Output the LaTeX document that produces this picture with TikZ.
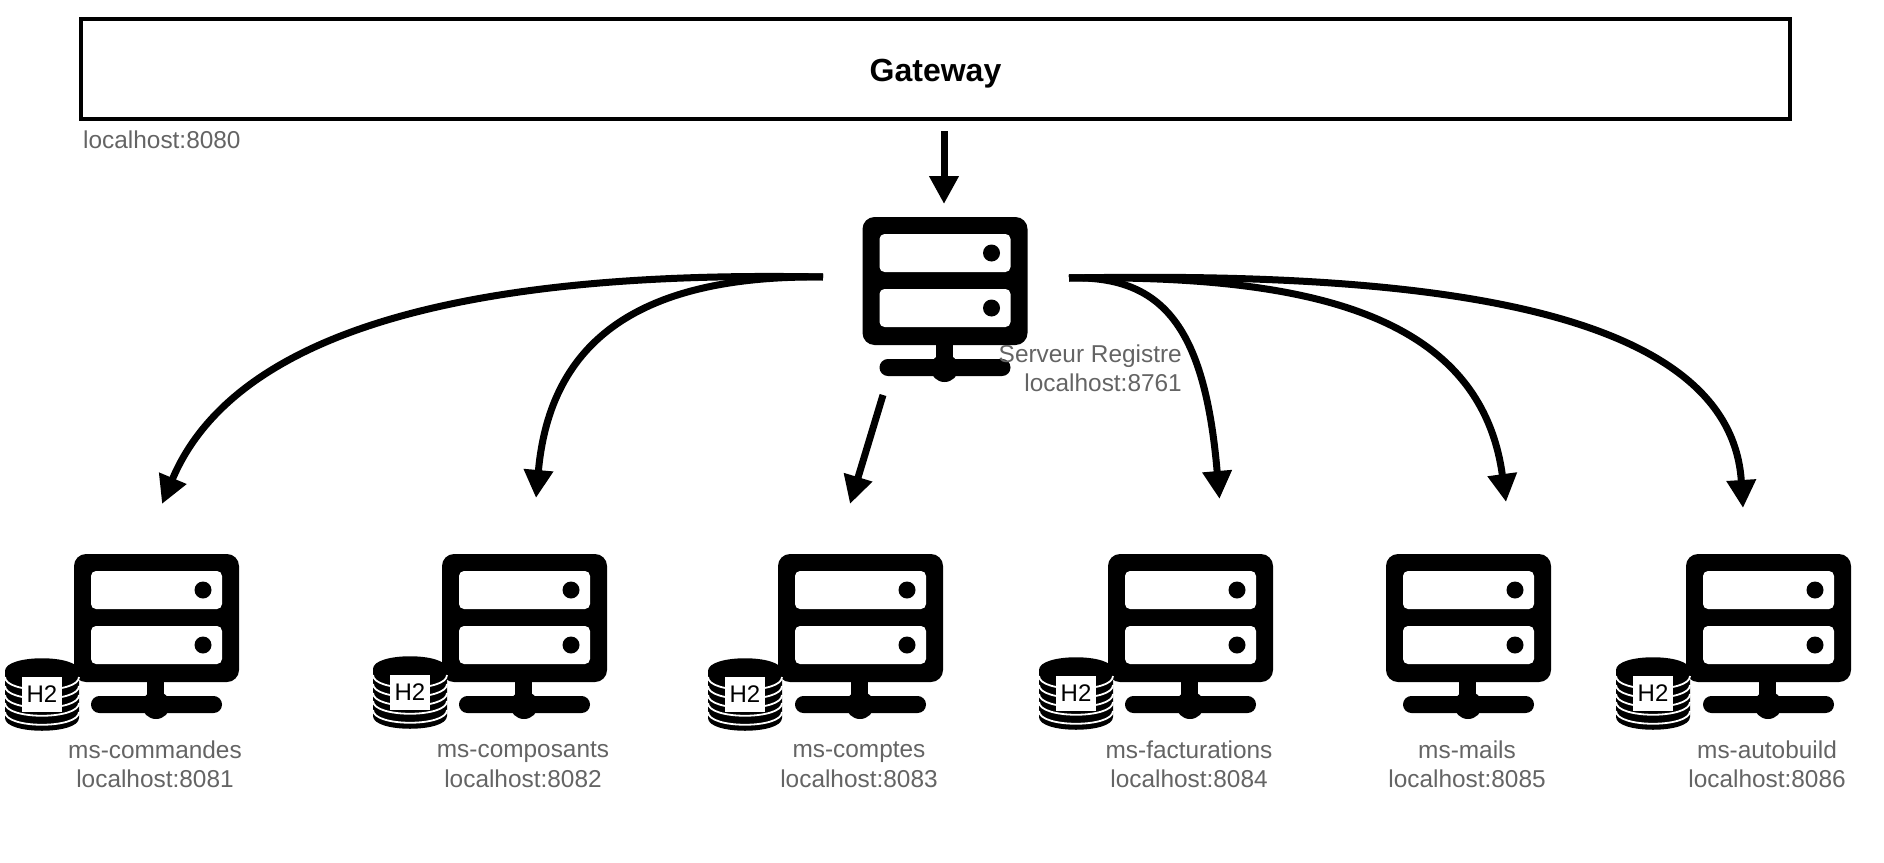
\documentclass[tikz,border=0pt]{standalone}
\usepackage{fontspec}
\setmainfont{Liberation Sans}
\usetikzlibrary{arrows.meta}
\definecolor{ink}{RGB}{0,0,0}
\definecolor{slate}{RGB}{100,100,100}
\tikzset{
  >={Triangle[length=28pt,width=28pt]},
  flow/.style={->,line width=7pt,draw=ink},
  tag/.style={font=\fontsize{24.4}{29.5}\selectfont,text=slate,align=center,inner sep=0pt},
  gate/.style={draw=ink,line width=4pt,minimum width=1709pt,minimum height=100pt,
    text height=25.5pt,text depth=0pt,font=\fontsize{32}{38}\selectfont\bfseries},
  % pictograms
  pics/server/.style={code={
    \fill[ink,rounded corners=12pt] (0,0) rectangle (165,128);
    \fill[white,rounded corners=5pt] (17,17) rectangle (148,55);
    \fill[white,rounded corners=5pt] (17,72) rectangle (148,110);
    \fill[ink] (129,36) circle (8.5pt);
    \fill[ink] (129,91) circle (8.5pt);
    \fill[ink] (73,128) rectangle (90,150);
    \fill[ink,rounded corners=8.4pt] (17,142) rectangle (148,159);
    \fill[ink] (82,151) circle (14pt);
  }},
  pics/dbstack/.style={code={
    \fill[ink] (-37,13) .. controls (-37,-4) and (37,-4) .. (37,13) -- (37,60)
      .. controls (37,77) and (-37,77) .. (-37,60) -- cycle;
    \foreach \y in {19,28,37,45,54}
      \draw[white,line width=1.8pt] (-37,\y) .. controls (-37,\y+17) and (37,\y+17) .. (37,\y);
    \node[fill=white,text=ink,font=\fontsize{24}{28}\selectfont,minimum width=40pt,
      minimum height=35pt,inner sep=0pt] (-h2) at (0,36.5) {H2};
  }},
}
\begin{document}
\begin{tikzpicture}[x=1pt,y=-1pt]
  \useasboundingbox (0,0) rectangle (1884,862);
  \node[gate] (gateway) at (935.5,69) {Gateway};
  \node[tag,anchor=west] (gatewayport) at (83,139.5) {localhost:8080};
  \pic at (862.5,217) {server};
  \node[tag,align=right,anchor=east] (registre) at (1182,368.5) {Serveur Registre\\localhost:8761};
  \foreach \x/\n/\p in {74/commandes/8081,442/composants/8082,778/comptes/8083,
    1108/facturations/8084,1386/mails/8085,1686/autobuild/8086}{
    \pic at (\x,554) {server};
    \node[tag] (\n) at (\x+81,764.5) {ms-\n\\localhost:\p};
  }
  \foreach \x/\y/\n in {42/658/commandes,410/656/composants,745/658/comptes,1076/657/facturations,1653/657/autobuild}
    \pic (db\n) at (\x,\y) {dbstack};
  % ends of the connectors
  \coordinate (gatewayout) at (944,131);
  \coordinate (registrein) at (944,204);
  \coordinate (registreleft) at (823,277);
  \coordinate (registreright) at (1069,278);
  \coordinate (registredown) at (883,395);
  \coordinate (tocommandes) at (162,504);
  \coordinate (tocomposants) at (536,498);
  \coordinate (tocomptes) at (850,504);
  \coordinate (tofacturations) at (1219.5,499);
  \coordinate (tomails) at (1506,502);
  \coordinate (toautobuild) at (1743,508);
  \draw[flow] (gatewayout) -- (registrein);
  \draw[flow] (registredown) -- (tocomptes);
  \draw[flow] (registreleft) .. controls (470,270) and (235,330) .. (tocommandes);
  \draw[flow] (registreleft) .. controls (640,275) and (550,340) .. (tocomposants);
  \draw[flow] (registreright) .. controls (1165,275) and (1205,330) .. (tofacturations);
  \draw[flow] (registreright) .. controls (1300,275) and (1480,310) .. (tomails);
  \draw[flow] (registreright) .. controls (1400,272) and (1730,300) .. (toautobuild);
\end{tikzpicture}
\end{document}
